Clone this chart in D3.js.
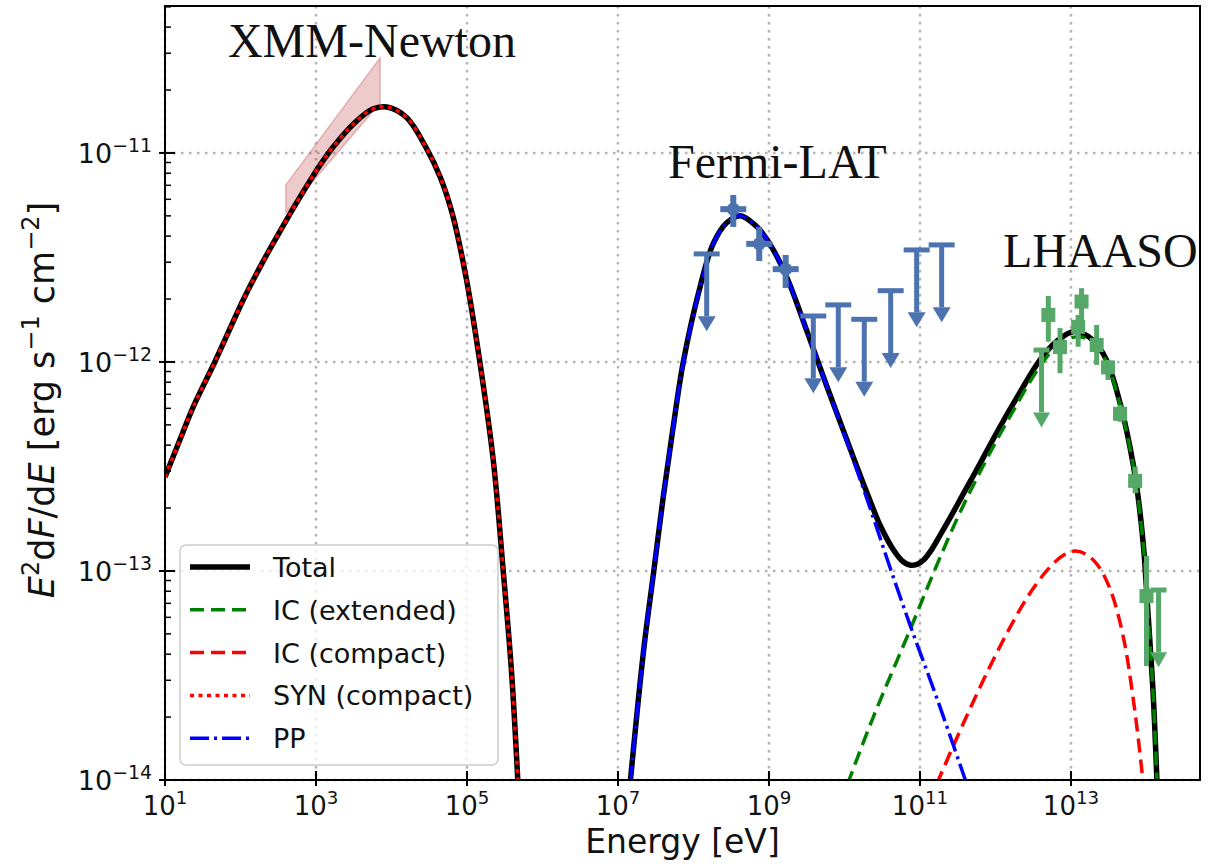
<!DOCTYPE html>
<html>
<head>
<meta charset="utf-8">
<script src="https://cdn.jsdelivr.net/npm/d3@7/dist/d3.min.js"></script>
<style>
  body { margin: 0; background: #fff; }
  svg { display: block; }
</style>
</head>
<body>
<svg id="chart" width="1211" height="868"></svg>
<script>
// all values as [log10 E (eV), log10 E^2dF/dE (erg s^-1 cm^-2)]
const synCompact = [
  [1.0, -12.55], [1.2, -12.37], [1.38, -12.21], [1.66, -12.0], [2.04, -11.70],
  [2.26, -11.545], [2.57, -11.345], [2.79, -11.21], [3.05, -11.06], [3.23, -10.97],
  [3.5, -10.86], [3.75, -10.79], [3.94, -10.78], [4.2, -10.83], [4.46, -10.976],
  [4.65, -11.12], [4.81, -11.297], [4.99, -11.60], [5.17, -12.0], [5.35, -12.476],
  [5.48, -13.0], [5.59, -13.483], [5.68, -14.05]
];
const ppCurve = [
  [7.16, -14.02], [7.34, -13.378], [7.47, -13.012], [7.60, -12.644], [7.73, -12.314],
  [7.865, -12.0], [8.09, -11.637], [8.26, -11.435], [8.44, -11.334], [8.62, -11.30],
  [8.83, -11.35], [9.01, -11.435], [9.23, -11.59], [9.50, -11.85], [9.76, -12.11],
  [10.07, -12.42], [10.34, -12.70], [10.60, -12.98], [10.87, -13.26], [11.225, -13.61],
  [11.62, -14.02]
];
const icExtended = [
  [10.04, -14.02], [10.38, -13.70], [10.87, -13.28], [11.19, -13.0], [11.53, -12.72],
  [11.88, -12.467], [12.24, -12.23], [12.59, -12.02], [12.81, -11.926], [13.07, -11.88],
  [13.29, -11.905], [13.47, -12.0], [13.65, -12.205], [13.78, -12.41], [13.87, -12.6],
  [13.96, -12.885], [14.02, -13.205], [14.09, -13.6], [14.14, -14.02]
];
const icCompact = [
  [11.22, -14.02], [11.45, -13.83], [11.7, -13.63], [11.95, -13.44], [12.2, -13.265],
  [12.45, -13.11], [12.7, -12.99], [12.9, -12.925], [13.05, -12.905], [13.2, -12.92],
  [13.35, -12.97], [13.52, -13.088], [13.69, -13.31], [13.82, -13.6], [13.94, -13.96],
  [13.96, -14.05]
];
// total above the synchrotron bump (pp + IC)
const totalHigh = [
  [7.16, -14.02], [7.34, -13.378], [7.47, -13.012], [7.60, -12.644], [7.73, -12.314],
  [7.865, -12.0], [8.09, -11.637], [8.26, -11.435], [8.44, -11.334], [8.62, -11.30],
  [8.83, -11.35], [9.01, -11.435], [9.23, -11.59], [9.50, -11.85], [9.76, -12.11],
  [10.07, -12.41], [10.205, -12.54], [10.34, -12.665], [10.47, -12.78], [10.65, -12.90],
  [10.76, -12.95], [10.87, -12.972], [10.96, -12.968], [11.04, -12.95], [11.15, -12.90],
  [11.265, -12.83], [11.4, -12.745], [11.53, -12.66], [11.66, -12.575], [11.79, -12.49],
  [12.06, -12.31], [12.32, -12.148], [12.59, -11.99], [12.81, -11.902], [13.03, -11.855],
  [13.29, -11.895], [13.47, -11.99], [13.65, -12.197], [13.78, -12.404], [13.87, -12.594],
  [13.96, -12.88], [14.02, -13.2], [14.09, -13.598], [14.14, -14.02]
];

// XMM-Newton butterfly
const xmmE = [2.60, 3.85];
const xmmLo = [-11.287, -10.761];
const xmmHi = [-11.153, -10.545];

// Fermi-LAT
const fermiE = [8.527, 8.871, 9.221];
const fermiF = [-11.269, -11.435, -11.556];
const fermiLo = [-11.354, -11.517, -11.646];
const fermiHi = [-11.201, -11.354, -11.488];
const fermiUlE = [8.175, 9.587, 9.918, 10.262, 10.612, 10.956, 11.287];
const fermiUlF = [-11.483, -11.780, -11.727, -11.796, -11.659, -11.464, -11.440];
const fermiHalfBin = 0.172;

// LHAASO
const lhaasoE = [12.70, 12.855, 13.095, 13.14, 13.34, 13.49, 13.65, 13.85, 14.0];
const lhaasoF = [-11.775, -11.929, -11.832, -11.711, -11.919, -12.026, -12.248, -12.569, -13.120];
const lhaasoLo = [-11.903, -12.054, -11.927, -11.807, -12.014, -12.086, -12.286, -12.628, -13.455];
const lhaasoHi = [-11.684, -11.838, -11.775, -11.647, -11.823, -11.990, -12.206, -12.501, -12.928];
const lhaasoUlE = [12.61, 14.16];
const lhaasoUlF = [-11.943, -13.091];

const xTickExp = [1, 3, 5, 7, 9, 11, 13];
const yTickExp = [-14, -13, -12, -11];
const labels = [
  { text: 'XMM-Newton', e: 1.834, f: -10.541 },
  { text: 'Fermi-LAT', e: 7.662, f: -11.120 },
  { text: 'LHAASO', e: 12.10, f: -11.545 }
];
const legendItems = ['Total', 'IC (extended)', 'IC (compact)', 'SYN (compact)', 'PP'];

const W = 1211, H = 868;
const margin = { left: 165, top: 6, right: 11, bottom: 88 };
const plotW = W - margin.left - margin.right;
const plotH = H - margin.top - margin.bottom;
const SANS = 'DejaVu Sans, sans-serif';
const SERIF = 'Liberation Serif, Times New Roman, serif';

const svg = d3.select('#chart');
const x = d3.scaleLog().domain([1e1, Math.pow(10, 14.709)]).range([0, plotW]);
const y = d3.scaleLog().domain([1e-14, Math.pow(10, -10.297)]).range([plotH, 0]);
const px = e => x(Math.pow(10, e));
const py = f => y(Math.pow(10, f));

svg.append('defs').append('clipPath').attr('id', 'plotclip')
  .append('rect').attr('width', plotW).attr('height', plotH);

const g = svg.append('g').attr('transform', `translate(${margin.left},${margin.top})`);

// grid
const grid = g.append('g').attr('stroke', '#b4b4b4').attr('stroke-width', 2.5)
  .attr('stroke-dasharray', '2.5,5.5');
grid.selectAll('.vx').data(xTickExp).enter().append('line')
  .attr('x1', d => px(d)).attr('x2', d => px(d)).attr('y1', 0).attr('y2', plotH);
grid.selectAll('.hy').data(yTickExp).enter().append('line')
  .attr('x1', 0).attr('x2', plotW).attr('y1', d => py(d)).attr('y2', d => py(d));

const plot = g.append('g').attr('clip-path', 'url(#plotclip)');

// XMM band
const band = xmmE.map((e, i) => [e, xmmHi[i]]).concat(xmmE.map((e, i) => [e, xmmLo[i]]).reverse());
plot.append('path')
  .attr('d', d3.line().x(d => px(d[0])).y(d => py(d[1]))(band) + 'Z')
  .attr('fill', '#c44e52').attr('fill-opacity', 0.3)
  .attr('stroke', '#c44e52').attr('stroke-opacity', 0.35).attr('stroke-width', 1.5);

const line = d3.line().x(d => px(d[0])).y(d => py(d[1])).curve(d3.curveCatmullRom.alpha(0.5));

const styles = {
  total: { stroke: '#000', width: 5.5, dash: null },
  icExt: { stroke: 'green', width: 3.5, dash: '14,7' },
  icCmp: { stroke: 'red', width: 3.5, dash: '14,7' },
  syn: { stroke: 'red', width: 3.5, dash: '4,4.5' },
  pp: { stroke: 'blue', width: 3.5, dash: '19,5,3,5' }
};
function drawCurve(data, s) {
  plot.append('path').datum(data).attr('d', line)
    .attr('fill', 'none').attr('stroke', s.stroke).attr('stroke-width', s.width)
    .attr('stroke-dasharray', s.dash);
}
drawCurve(synCompact, styles.total);
drawCurve(totalHigh, styles.total);
drawCurve(icExtended, styles.icExt);
drawCurve(icCompact, styles.icCmp);
drawCurve(synCompact, styles.syn);
drawCurve(ppCurve, styles.pp);

// upper-limit arrows
const ulLen = 0.37;
function drawUL(layer, e, f, color, cap, head) {
  const x0 = px(e), y0 = py(f), y1 = py(f - ulLen);
  layer.append('line').attr('x1', x0).attr('x2', x0).attr('y1', y0).attr('y2', y1 - head.h)
    .attr('stroke', color).attr('stroke-width', 5);
  layer.append('line').attr('x1', cap.l).attr('x2', cap.r).attr('y1', y0).attr('y2', y0)
    .attr('stroke', color).attr('stroke-width', 5);
  layer.append('path')
    .attr('d', `M${x0 - head.w / 2},${y1 - head.h}L${x0 + head.w / 2},${y1 - head.h}L${x0},${y1}Z`)
    .attr('fill', color);
}

// Fermi-LAT points
const fermiCol = '#4c72b0';
const fl = g.append('g');
fermiE.forEach((e, i) => {
  fl.append('line').attr('x1', px(e)).attr('x2', px(e))
    .attr('y1', py(fermiLo[i])).attr('y2', py(fermiHi[i]))
    .attr('stroke', fermiCol).attr('stroke-width', 6);
  fl.append('line').attr('x1', px(e - fermiHalfBin)).attr('x2', px(e + fermiHalfBin))
    .attr('y1', py(fermiF[i])).attr('y2', py(fermiF[i]))
    .attr('stroke', fermiCol).attr('stroke-width', 6);
  fl.append('circle').attr('cx', px(e)).attr('cy', py(fermiF[i])).attr('r', 6.5)
    .attr('fill', fermiCol);
});
fermiUlE.forEach((e, i) => {
  drawUL(fl, e, fermiUlF[i], fermiCol,
    { l: px(e - fermiHalfBin), r: px(e + fermiHalfBin) }, { w: 18, h: 15 });
});

// LHAASO points
const lhCol = '#55a868';
const lh = g.append('g');
lhaasoE.forEach((e, i) => {
  lh.append('line').attr('x1', px(e)).attr('x2', px(e))
    .attr('y1', py(lhaasoLo[i])).attr('y2', py(lhaasoHi[i]))
    .attr('stroke', lhCol).attr('stroke-width', 5);
  lh.append('rect').attr('x', px(e) - 7).attr('y', py(lhaasoF[i]) - 7)
    .attr('width', 14).attr('height', 14).attr('fill', lhCol);
});
lhaasoUlE.forEach((e, i) => {
  drawUL(lh, e, lhaasoUlF[i], lhCol, { l: px(e) - 8, r: px(e) + 8 }, { w: 17, h: 15 });
});

// frame
g.append('rect').attr('width', plotW).attr('height', plotH)
  .attr('fill', 'none').attr('stroke', '#000').attr('stroke-width', 2);

function supLabel(sel, exp, size) {
  sel.append('tspan').text('10');
  sel.append('tspan').attr('font-size', size * 0.7).attr('dy', -size * 0.42)
    .text(String(exp).replace('-', '\u2212'));
}

// x axis
const xAxis = g.append('g').attr('transform', `translate(0,${plotH})`);
xAxis.selectAll('line').data(xTickExp).enter().append('line')
  .attr('x1', d => px(d)).attr('x2', d => px(d)).attr('y1', -9).attr('y2', 6)
  .attr('stroke', '#000').attr('stroke-width', 2);
xAxis.selectAll('text').data(xTickExp).enter().append('text')
  .attr('x', d => px(d)).attr('y', 35).attr('text-anchor', 'middle')
  .attr('font-family', SANS).attr('font-size', 26).attr('fill', '#111')
  .each(function (d) { supLabel(d3.select(this), d, 26); });

// y axis
const yAxis = g.append('g');
const minor = [];
for (let p = -14; p <= -11; p++) for (let k = 2; k <= 9; k++) minor.push(k * Math.pow(10, p));
yAxis.selectAll('.minor').data(minor.filter(v => v <= y.domain()[1])).enter().append('line')
  .attr('x1', 0).attr('x2', 6).attr('y1', d => y(d)).attr('y2', d => y(d))
  .attr('stroke', '#000').attr('stroke-width', 1.5);
yAxis.selectAll('.major').data(yTickExp).enter().append('line')
  .attr('x1', -6).attr('x2', 10).attr('y1', d => py(d)).attr('y2', d => py(d))
  .attr('stroke', '#000').attr('stroke-width', 2);
yAxis.selectAll('text').data(yTickExp).enter().append('text')
  .attr('x', -13).attr('y', d => py(d) + 10).attr('text-anchor', 'end')
  .attr('font-family', SANS).attr('font-size', 27).attr('fill', '#111')
  .each(function (d) { supLabel(d3.select(this), d, 27); });

// axis titles
svg.append('text').attr('x', margin.left + plotW / 2).attr('y', 853)
  .attr('text-anchor', 'middle').attr('font-family', SANS).attr('font-size', 33).attr('fill', '#111')
  .text('Energy [eV]');
const yt = svg.append('text').attr('transform', 'translate(54,400) rotate(-90)')
  .attr('text-anchor', 'middle').attr('font-family', SANS).attr('font-size', 35).attr('fill', '#111');
yt.append('tspan').attr('font-style', 'italic').text('E');
yt.append('tspan').attr('font-size', 24).attr('dy', -15).text('2');
yt.append('tspan').attr('dy', 15).text('d');
yt.append('tspan').attr('font-style', 'italic').text('F');
yt.append('tspan').text('/d');
yt.append('tspan').attr('font-style', 'italic').text('E');
yt.append('tspan').text(' [erg s');
yt.append('tspan').attr('font-size', 24).attr('dy', -15).text('\u22121');
yt.append('tspan').attr('dy', 15).text(' cm');
yt.append('tspan').attr('font-size', 24).attr('dy', -15).text('\u22122');
yt.append('tspan').attr('dy', 15).text(']');

// instrument labels
g.selectAll('.inst').data(labels).enter().append('text')
  .attr('x', d => px(d.e)).attr('y', d => py(d.f))
  .attr('font-family', SERIF).attr('font-size', 48).attr('fill', '#111')
  .text(d => d.text);

// legend
const leg = g.append('g').attr('transform', `translate(${180 - margin.left},${545 - margin.top})`);
leg.append('rect').attr('width', 318).attr('height', 220).attr('rx', 6)
  .attr('fill', '#fff').attr('fill-opacity', 0.8).attr('stroke', '#cccccc').attr('stroke-width', 1.5);
const legStyles = [styles.total, styles.icExt, styles.icCmp, styles.syn, styles.pp];
legendItems.forEach((name, i) => {
  const ly = 22 + i * 42.8;
  const s = legStyles[i];
  leg.append('line').attr('x1', 10).attr('x2', 70).attr('y1', ly).attr('y2', ly)
    .attr('stroke', s.stroke).attr('stroke-width', s.width).attr('stroke-dasharray', s.dash);
  leg.append('text').attr('x', 93).attr('y', ly + 10)
    .attr('font-family', SANS).attr('font-size', 27).attr('fill', '#111').text(name);
});
</script>
</body>
</html>
